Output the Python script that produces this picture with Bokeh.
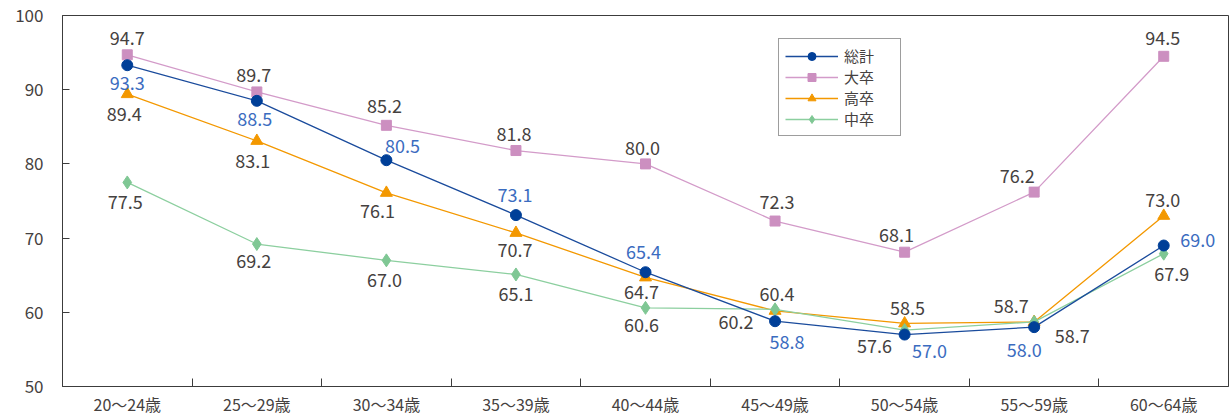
from bokeh.plotting import figure
from bokeh.models import FixedTicker, ColumnDataSource, Legend
from bokeh.core.properties import value
from bokeh.embed import file_html
from bokeh.resources import INLINE

# ---- data ----
categories = ["20～24歳", "25～29歳", "30～34歳", "35～39歳", "40～44歳",
              "45～49歳", "50～54歳", "55～59歳", "60～64歳"]
series_names = ["総計", "大卒", "高卒", "中卒"]
total = [93.3, 88.5, 80.5, 73.1, 65.4, 58.8, 57.0, 58.0, 69.0]
univ = [94.7, 89.7, 85.2, 81.8, 80.0, 72.3, 68.1, 76.2, 94.5]
high = [89.4, 83.1, 76.1, 70.7, 64.7, 60.2, 58.5, 58.7, 73.0]
junior = [77.5, 69.2, 67.0, 65.1, 60.6, 60.4, 57.6, 58.7, 67.9]
y_ticks = [50, 60, 70, 80, 90, 100]

# ---- label offsets (screen px, +y = down) ----
off_total = [(0, 18), (-2, 18), (16, -14), (-1, -20), (-2, -20), (12, 21), (25, 16), (-10, 23), (34, -6)]
off_univ = [(0, -17), (-3, -17), (-2, -19), (-2, -17), (-3, -16), (2, -19), (-8, -17), (-17, -16), (-1, -18)]
off_high = [(-3, 20), (-4, 20), (-9, 18), (-1, 17), (-4, 15), (-39, 11), (3, -15), (-23, -16), (-1, -16)]
off_junior = [(-2, 20), (-3, 17), (-2, 20), (0, 20), (-4, 17), (2, -15), (-30, 16), (38, 14), (8, 20)]

FONT = "Noto Sans CJK JP"
DARK = "#454140"

xs = list(range(len(categories)))

p = figure(width=1231, height=418, x_range=(-0.5, len(categories) - 0.5), y_range=(50, 100),
           output_backend="svg", toolbar_location=None,
           min_border_left=62, min_border_right=3, min_border_top=15, min_border_bottom=29)
p.background_fill_color = "white"
p.border_fill_color = "white"
p.outline_line_color = "#3c3c3c"
p.outline_line_width = 1
p.xgrid.visible = False
p.ygrid.visible = False

# x axis: labels at centers, tick marks at boundaries (minor ticks)
p.xaxis.ticker = FixedTicker(ticks=xs, minor_ticks=[i + 0.5 for i in xs[:-1]])
p.xaxis.major_label_overrides = {i: c for i, c in zip(xs, categories)}
p.xaxis.major_tick_in = 0
p.xaxis.major_tick_out = 0
p.xaxis.minor_tick_in = 8
p.xaxis.minor_tick_out = 0
p.xaxis.minor_tick_line_color = "#3c3c3c"
p.xaxis.axis_line_color = "#3c3c3c"
p.xaxis.major_label_text_font = FONT
p.xaxis.major_label_text_font_size = "16px"
p.xaxis.major_label_text_color = DARK
p.xaxis.major_label_standoff = 5

p.yaxis.ticker = FixedTicker(ticks=y_ticks)
p.yaxis.major_tick_in = 7
p.yaxis.major_tick_out = 0
p.yaxis.minor_tick_line_color = None
p.yaxis.major_tick_line_color = "#3c3c3c"
p.yaxis.axis_line_color = "#3c3c3c"
p.yaxis.major_label_text_font = FONT
p.yaxis.major_label_text_font_size = "17px"
p.yaxis.major_label_text_color = DARK
p.yaxis.major_label_standoff = 19

specs = [
    # name, values, line color, marker, marker color, size, label color, offsets
    ("大卒", univ, "#d39bc9", "square", "#cc8fc0", 10, DARK, off_univ),
    ("高卒", high, "#f39800", "triangle", "#f39800", 12, DARK, off_high),
    ("中卒", junior, "#8ccf9f", "diamond", "#7fc794", 13, DARK, off_junior),
    ("総計", total, "#1a4b9c", "circle", "#003f98", 11, "#3b6cc0", off_total),
]

renderers = {}
for name, vals, lc, mk, mc, sz, tc, offs in specs:
    src = ColumnDataSource(dict(
        x=xs, y=vals, lab=[f"{v:.1f}" for v in vals],
        dx=[o[0] for o in offs], dy=[o[1] for o in offs]))
    l = p.line("x", "y", source=src, line_color=lc, line_width=1.3)
    s = p.scatter("x", "y", source=src, marker=mk, size=sz, fill_color=mc, line_color=mc)
    p.text("x", "y", text="lab", source=src, x_offset="dx", y_offset="dy",
           text_align="center", text_baseline="middle",
           text_font=value(FONT), text_font_size="18px", text_color=tc)
    renderers[name] = [l, s]

legend = Legend(items=[(n, renderers[n]) for n in series_names],
                location=(716, 250), orientation="vertical")
legend.glyph_width = 53
legend.glyph_height = 20
legend.label_height = 20
legend.spacing = 0
legend.padding = 6
legend.margin = 0
legend.label_standoff = 6
legend.label_width = 50
legend.label_text_font = FONT
legend.label_text_font_size = "15px"
legend.label_text_color = DARK
legend.border_line_color = "#3c3c3c"
legend.border_line_width = 1
legend.background_fill_color = "white"
legend.background_fill_alpha = 1
p.add_layout(legend, "center")

open("out.html", "w").write(file_html(p, INLINE))
